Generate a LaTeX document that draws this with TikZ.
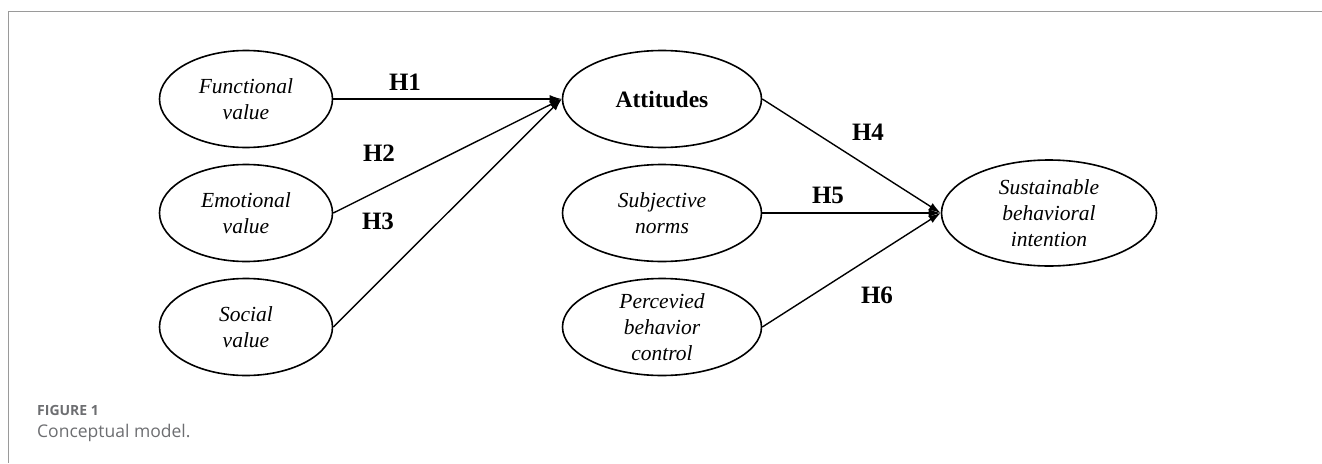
\documentclass[tikz,border=0pt]{standalone}
\usepackage{fontspec}
\setmainfont{Liberation Serif}
\newfontfamily\capfont{Open Sans}
\usetikzlibrary{arrows.meta,shapes.geometric}
\definecolor{framegray}{HTML}{9A9A9A}
\definecolor{capgray}{HTML}{6D6E71}
\tikzset{
  latent/.style={draw, line width=1.6pt, ellipse, minimum width=#1, minimum height=97pt, inner sep=0pt, align=center, font=\fontsize{21.5}{26}\selectfont\itshape},
  latent/.default=173pt,
  path/.style={line width=1.4pt, -{Latex[length=12pt,width=8pt]}},
  hlab/.style={font=\fontsize{25}{28}\selectfont\bfseries},
}
\begin{document}
\begin{tikzpicture}[x=1pt,y=-1pt]
\useasboundingbox (0,0) rectangle (1322,463);
\draw[framegray, line width=1pt] (1322,11) -- (8,11) -- (8,463);
\node[latent] (fv) at (246,99) {Functional\\value};
\node[latent] (ev) at (246,213) {Emotional\\value};
\node[latent] (sv) at (246,327) {Social\\value};
\node[latent=199pt, font=\fontsize{23.5}{26}\selectfont\bfseries] (at) at (662,99) {Attitudes};
\node[latent=199pt] (sn) at (662,213) {Subjective\\norms};
\node[latent=199pt] (pb) at (662,327) {Percevied\\behavior\\control};
\node[latent=215pt, minimum height=106pt] (si) at (1049,213) {Sustainable\\behavioral\\intention};
\draw[path] (fv.east) -- (at.west);
\draw[path] (ev.east) -- (at.west);
\draw[path] (sv.east) -- (at.west);
\draw[path] (at.east) -- (si.west);
\draw[path] (sn.east) -- (si.west);
\draw[path] (pb.east) -- (si.west);
\node[hlab] (h1) at (405,82) {H1};
\node[hlab] (h2) at (379,153) {H2};
\node[hlab] (h3) at (378,221) {H3};
\node[hlab] (h4) at (868,132) {H4};
\node[hlab] (h5) at (828,195) {H5};
\node[hlab] (h6) at (877,295) {H6};
\node[anchor=west, inner sep=0pt, text=capgray, font=\capfont\bfseries\fontsize{14}{16}\selectfont] (fig) at (37,410) {FIGURE 1};
\node[anchor=west, inner sep=0pt, text=capgray, font=\capfont\fontsize{17.5}{20}\selectfont] (cap) at (37,433) {Conceptual model.};
\end{tikzpicture}
\end{document}
